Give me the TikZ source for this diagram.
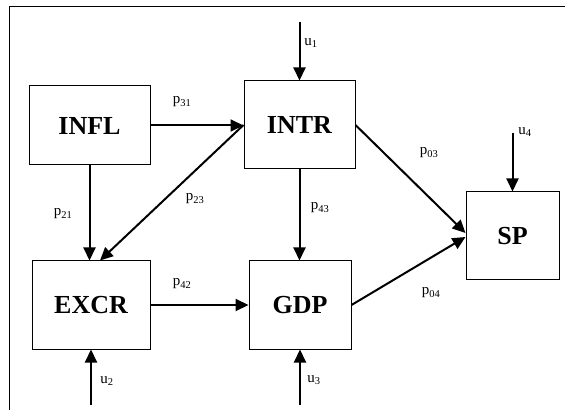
\documentclass[tikz,border=0pt]{standalone}
\usepackage{fontspec}
\setmainfont{Liberation Serif}
\usetikzlibrary{arrows.meta,positioning}

\begin{document}
\begin{tikzpicture}[
  x=1pt, y=1pt,
  >={Triangle[length=13pt,width=12pt]},
  every node/.style={font=\fontsize{15}{18}\selectfont},
  var/.style={draw, line width=1pt, inner sep=0pt, minimum height=88pt,
              font=\fontsize{26}{30}\selectfont\bfseries},
  link/.style={->, line width=2pt}
]
  \useasboundingbox (0,0) rectangle (565,410);
  \draw[line width=1pt] (565,403) -- (9,403) -- (9,0);
  % variables
  \node[var, minimum width=121pt, minimum height=79pt] (infl) at (89.5,284.5) {INFL};
  \node[var, minimum width=111pt] (intr) at (299.5,285) {INTR};
  \node[var, minimum width=118pt] (excr) at (91,105) {EXCR};
  \node[var, minimum width=102pt] (gdp) at (300,105) {GDP};
  \node[var, minimum width=93pt] (sp) at (512.5,174) {SP};
  % shocks
  \coordinate (u1s) at (299.5,388);
  \coordinate (u2s) at (91,5);
  \coordinate (u3s) at (300,5);
  \coordinate (u4s) at (512.5,277);
  % paths
  \draw[link] (infl.east) -- (infl.east -| intr.west);
  \draw[link] (infl.south) -- (infl.south |- excr.north);
  \draw[link] (intr.west) -- ([xshift=9pt]excr.north);
  \draw[link] (intr.south) -- (intr.south |- gdp.north);
  \draw[link] (excr.east) -- (gdp.west);
  \draw[link] (intr.east) -- ([yshift=3pt]sp.west);
  \draw[link] (gdp.east) -- ([yshift=-1pt]sp.west);
  \draw[link] (u1s) -- (intr.north);
  \draw[link] (u2s) -- (excr.south);
  \draw[link] (u3s) -- (gdp.south);
  \draw[link] (u4s) -- (sp.north);
  % labels
  \node (p31) at (182,308) {p\textsubscript{31}};
  \node (p21) at (63,196) {p\textsubscript{21}};
  \node (p23) at (195,211) {p\textsubscript{23}};
  \node (p43) at (320,202) {p\textsubscript{43}};
  \node (p42) at (182,126) {p\textsubscript{42}};
  \node (p03) at (429,257) {p\textsubscript{03}};
  \node (p04) at (431,117) {p\textsubscript{04}};
  \node (u1) at (311,367) {u\textsubscript{1}};
  \node (u4) at (525,278) {u\textsubscript{4}};
  \node (u2) at (107,29) {u\textsubscript{2}};
  \node (u3) at (314,30) {u\textsubscript{3}};
\end{tikzpicture}
\end{document}
